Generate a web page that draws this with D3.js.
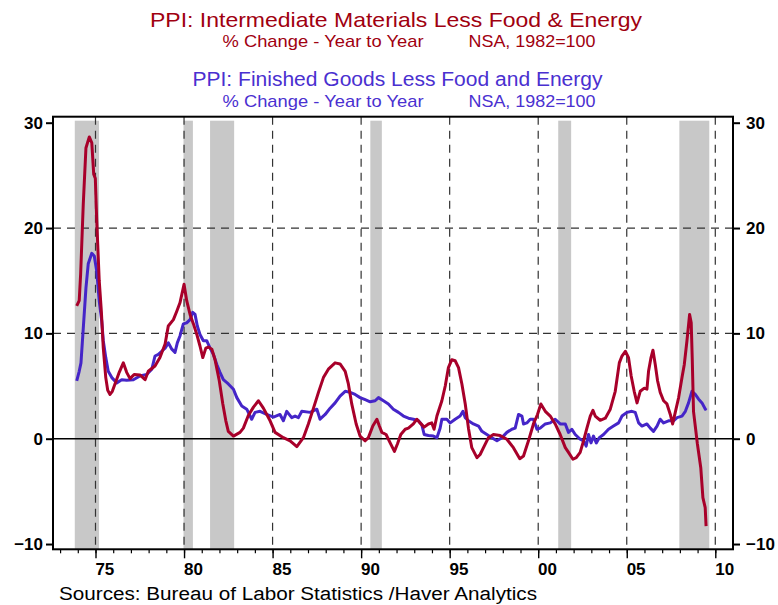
<!DOCTYPE html>
<html>
<head>
<meta charset="utf-8">
<script src="https://cdn.jsdelivr.net/npm/d3@7"></script>
<style>
  body { margin: 0; background: #fff; }
  svg { display: block; }
  text { font-family: "Liberation Sans Narrow", "Liberation Sans", Arial, sans-serif; }
</style>
</head>
<body>
<svg id="chart" width="778" height="605"></svg>
<script>
// PPI intermediate materials less food & energy, % y/y  [decimal year, value]
const intermediate = [
  [1973.94, 12.6], [1974.08, 13.1], [1974.16, 15.6], [1974.31, 22.3], [1974.46, 27.6],
  [1974.65, 28.65], [1974.79, 28.1], [1974.90, 25.1], [1974.99, 24.7], [1975.07, 20.7],
  [1975.21, 15.0], [1975.33, 12.1], [1975.44, 8.6], [1975.58, 5.8], [1975.69, 4.6],
  [1975.82, 4.2], [1975.95, 4.5], [1976.10, 5.2], [1976.34, 6.3], [1976.57, 7.2],
  [1976.76, 6.3], [1976.95, 5.7], [1977.18, 6.1], [1977.51, 6.05], [1977.80, 5.6],
  [1977.98, 6.4], [1978.36, 6.9], [1978.64, 7.7], [1978.93, 9.0], [1979.11, 10.7],
  [1979.40, 11.3], [1979.59, 12.1], [1979.77, 12.9], [1980.00, 14.66], [1980.15, 13.1],
  [1980.34, 11.8], [1980.53, 10.9], [1980.72, 9.9], [1980.90, 8.8], [1981.06, 7.7],
  [1981.23, 8.6], [1981.37, 8.7], [1981.57, 8.5], [1981.75, 7.5], [1981.99, 5.5],
  [1982.19, 3.3], [1982.36, 1.7], [1982.50, 0.7], [1982.79, 0.25], [1983.16, 0.6],
  [1983.35, 1.0], [1983.63, 2.2], [1983.92, 3.0], [1984.20, 3.6], [1984.48, 2.9],
  [1984.86, 1.7], [1985.14, 0.6], [1985.61, 0.1], [1985.99, -0.2], [1986.37, -0.75],
  [1986.74, 0.1], [1987.02, 1.4], [1987.31, 2.9], [1987.59, 4.4], [1987.87, 5.8],
  [1988.15, 6.6], [1988.53, 7.2], [1988.81, 7.1], [1989.10, 6.4], [1989.28, 5.2],
  [1989.47, 3.3], [1989.72, 1.4], [1989.94, 0.25], [1990.23, -0.2], [1990.41, 0.1],
  [1990.66, 1.2], [1990.89, 1.85], [1991.03, 1.2], [1991.17, 0.6], [1991.41, 0.4],
  [1991.64, -0.4], [1991.88, -1.2], [1992.05, -0.5], [1992.24, 0.4], [1992.49, 0.9],
  [1992.67, 1.0], [1992.95, 1.4], [1993.15, 1.85], [1993.33, 1.5], [1993.56, 1.1],
  [1993.80, 1.4], [1993.99, 1.5], [1994.12, 0.9], [1994.28, 2.15], [1994.56, 3.6],
  [1994.75, 5.0], [1994.93, 6.75], [1995.12, 7.5], [1995.31, 7.4], [1995.50, 6.75],
  [1995.69, 5.2], [1995.88, 3.3], [1996.06, 1.0], [1996.25, -0.85], [1996.54, -1.8],
  [1996.72, -1.5], [1996.91, -0.85], [1997.19, 0.1], [1997.47, 0.4], [1997.85, 0.3],
  [1998.23, -0.05], [1998.60, -0.85], [1998.96, -1.9], [1999.17, -1.65], [1999.45, -0.2],
  [1999.73, 1.4], [1999.96, 2.3], [2000.15, 3.3], [2000.40, 2.6], [2000.68, 2.15],
  [2000.96, 1.4], [2001.24, 0.4], [2001.53, -0.85], [2001.71, -1.3], [2001.96, -1.95],
  [2002.15, -1.8], [2002.37, -1.3], [2002.56, -0.2], [2002.75, 1.0], [2002.94, 2.15],
  [2003.09, 2.7], [2003.22, 2.15], [2003.50, 1.75], [2003.79, 1.95], [2004.07, 2.8],
  [2004.35, 4.5], [2004.58, 7.2], [2004.73, 7.85], [2004.92, 8.3], [2005.10, 7.7],
  [2005.25, 5.95], [2005.42, 4.5], [2005.58, 3.4], [2005.76, 4.5], [2005.99, 4.8],
  [2006.14, 4.7], [2006.23, 6.4], [2006.37, 7.7], [2006.48, 8.4], [2006.61, 7.05],
  [2006.74, 5.5], [2006.89, 4.4], [2007.08, 3.6], [2007.27, 3.3], [2007.46, 2.3],
  [2007.59, 1.4], [2007.74, 2.5], [2007.93, 3.9], [2008.12, 5.8], [2008.25, 7.05],
  [2008.40, 9.3], [2008.55, 11.8], [2008.64, 11.0], [2008.70, 7.5], [2008.77, 2.6],
  [2008.99, -0.5], [2009.18, -2.75], [2009.30, -5.6], [2009.43, -6.55], [2009.48, -8.3]
];

// PPI finished goods less food & energy, % y/y  [decimal year, value]
const finished = [
  [1973.94, 5.5], [1974.08, 6.4], [1974.18, 7.2], [1974.31, 10.5], [1974.46, 14.3],
  [1974.59, 16.6], [1974.79, 17.6], [1974.93, 17.35], [1975.07, 15.9], [1975.21, 13.1],
  [1975.35, 11.2], [1975.44, 9.3], [1975.58, 7.7], [1975.72, 6.4], [1975.92, 5.8],
  [1976.20, 5.3], [1976.48, 5.6], [1976.76, 5.55], [1977.14, 5.6], [1977.51, 5.95],
  [1977.89, 6.1], [1978.18, 6.6], [1978.36, 7.85], [1978.55, 8.0], [1978.74, 8.3],
  [1978.93, 8.6], [1979.11, 9.1], [1979.31, 8.5], [1979.49, 8.2], [1979.62, 9.1],
  [1979.77, 9.75], [1979.96, 10.9], [1980.15, 11.0], [1980.34, 11.3], [1980.49, 12.0],
  [1980.62, 11.8], [1980.75, 10.7], [1980.90, 9.9], [1981.09, 9.3], [1981.28, 9.3],
  [1981.47, 8.6], [1981.66, 8.0], [1981.85, 7.05], [1982.03, 6.3], [1982.22, 5.6],
  [1982.50, 5.2], [1982.79, 4.7], [1982.98, 3.9], [1983.26, 3.1], [1983.54, 2.8],
  [1983.82, 1.85], [1984.01, 2.5], [1984.29, 2.6], [1984.67, 2.3], [1985.05, 2.05],
  [1985.42, 2.3], [1985.61, 1.7], [1985.80, 2.6], [1986.08, 2.0], [1986.27, 2.15],
  [1986.46, 2.0], [1986.65, 2.6], [1987.12, 2.5], [1987.50, 2.8], [1987.68, 1.85],
  [1987.97, 2.3], [1988.25, 2.9], [1988.53, 3.4], [1988.81, 4.05], [1989.10, 4.5],
  [1989.38, 4.4], [1989.66, 4.2], [1989.94, 3.9], [1990.23, 3.7], [1990.51, 3.5],
  [1990.79, 3.6], [1990.98, 3.9], [1991.26, 3.6], [1991.54, 3.3], [1991.82, 2.8],
  [1992.11, 2.5], [1992.39, 2.15], [1992.67, 1.95], [1992.95, 1.85], [1993.24, 1.7],
  [1993.43, 1.3], [1993.56, 0.4], [1993.80, 0.3], [1994.08, 0.25], [1994.28, 0.1],
  [1994.46, 1.0], [1994.56, 1.85], [1994.84, 1.85], [1995.03, 1.5], [1995.31, 1.85],
  [1995.59, 2.15], [1995.75, 2.6], [1995.88, 2.0], [1996.06, 1.7], [1996.34, 1.4],
  [1996.63, 1.2], [1996.82, 0.7], [1997.10, 0.4], [1997.38, 0.1], [1997.67, -0.2],
  [1997.95, 0.1], [1998.23, 0.6], [1998.51, 0.9], [1998.70, 1.0], [1998.89, 2.3],
  [1999.08, 2.15], [1999.17, 1.4], [1999.36, 1.5], [1999.55, 1.85], [1999.73, 1.85],
  [1999.93, 0.9], [2000.11, 1.0], [2000.40, 1.4], [2000.68, 1.5], [2000.96, 1.85],
  [2001.24, 1.4], [2001.53, 1.4], [2001.71, 0.6], [2001.90, 0.9], [2002.09, 0.4],
  [2002.37, -0.05], [2002.56, -0.2], [2002.71, -0.7], [2002.84, 0.4], [2002.98, -0.4],
  [2003.12, 0.25], [2003.28, -0.4], [2003.45, 0.1], [2003.69, 0.4], [2003.97, 0.9],
  [2004.25, 1.2], [2004.54, 1.5], [2004.73, 2.15], [2005.01, 2.5], [2005.29, 2.6],
  [2005.48, 2.5], [2005.67, 1.5], [2005.86, 1.2], [2006.14, 1.4], [2006.33, 1.0],
  [2006.51, 0.7], [2006.71, 1.2], [2006.89, 1.85], [2007.08, 1.5], [2007.36, 1.7],
  [2007.64, 1.7], [2007.84, 2.0], [2008.12, 2.15], [2008.31, 2.6], [2008.49, 3.4],
  [2008.68, 4.5], [2008.87, 4.2], [2009.06, 3.75], [2009.25, 3.4], [2009.44, 2.8],
  [2009.49, 2.9]
];

// recessions (shaded), [start, end] in decimal years
const recessions = [
  [1973.83, 1975.2], [1979.97, 1980.5], [1981.47, 1982.83],
  [1990.52, 1991.17], [2001.13, 2001.86], [2007.97, 2009.66]
];

const yTicks = [-10, 0, 10, 20, 30];
const yGrid = [10, 20];
const majorYears = [1975, 1980, 1985, 1990, 1995, 2000, 2005, 2010];
const minorYears = d3.range(1973, 2011);

const red = "#a8002a";
const blue = "#4525c8";
const titleRed = "#a00010";
const titleBlue = "#4a30d0";

const svg = d3.select("#chart");
const plotLeft = 53, plotRight = 733, plotTop = 116.7, plotBottom = 549.3;

const x = d3.scaleLinear().domain([1972.6, 2011.0]).range([plotLeft, plotRight]);
const y = d3.scaleLinear().domain([-10.5, 30.57]).range([plotBottom, plotTop]);

// Titles: [text, x, baseline, width, size, colour]
const titleLines = [
  ["PPI: Intermediate Materials Less Food & Energy", 150, 27, 492, 21, titleRed],
  ["% Change - Year to Year", 222.5, 47, 201, 17, titleRed],
  ["NSA, 1982=100", 468.5, 47, 127, 17, titleRed],
  ["PPI: Finished Goods Less Food and Energy", 192.5, 86, 410, 20, titleBlue],
  ["% Change - Year to Year", 222.5, 106.5, 201, 17, titleBlue],
  ["NSA, 1982=100", 468.5, 106.5, 127, 17, titleBlue]
];
svg.append("g").selectAll("text")
  .data(titleLines)
  .join("text")
  .attr("x", d => d[1]).attr("y", d => d[2])
  .attr("textLength", d => d[3]).attr("lengthAdjust", "spacingAndGlyphs")
  .style("font-size", d => d[4] + "px")
  .attr("fill", d => d[5])
  .text(d => d[0]);

// Recession bands
svg.append("g").selectAll("rect")
  .data(recessions)
  .join("rect")
  .attr("x", d => x(d[0]))
  .attr("width", d => x(d[1]) - x(d[0]))
  .attr("y", plotTop + 4)
  .attr("height", plotBottom - plotTop - 4)
  .attr("fill", "#c8c8c8");

// Dashed grid
svg.append("g").selectAll("line")
  .data(majorYears)
  .join("line")
  .attr("x1", d => x(d)).attr("x2", d => x(d))
  .attr("y1", plotTop).attr("y2", plotBottom)
  .attr("stroke", "#333").attr("stroke-width", 1.2)
  .attr("stroke-dasharray", "8,6");

svg.append("g").selectAll("line")
  .data(yGrid)
  .join("line")
  .attr("x1", plotLeft).attr("x2", plotRight)
  .attr("y1", d => y(d)).attr("y2", d => y(d))
  .attr("stroke", "#333").attr("stroke-width", 1.2)
  .attr("stroke-dasharray", "8,6");

// zero line
svg.append("line")
  .attr("x1", plotLeft).attr("x2", plotRight)
  .attr("y1", y(0)).attr("y2", y(0))
  .attr("stroke", "#000").attr("stroke-width", 1.6);

// Series
const line = d3.line().x(d => x(d[0])).y(d => y(d[1]));
svg.append("path").datum(finished)
  .attr("d", line).attr("fill", "none")
  .attr("stroke", blue).attr("stroke-width", 3)
  .attr("stroke-linejoin", "round");
svg.append("path").datum(intermediate)
  .attr("d", line).attr("fill", "none")
  .attr("stroke", red).attr("stroke-width", 3)
  .attr("stroke-linejoin", "round");

// Frame
svg.append("rect")
  .attr("x", plotLeft).attr("y", plotTop)
  .attr("width", plotRight - plotLeft).attr("height", plotBottom - plotTop)
  .attr("fill", "none").attr("stroke", "#000").attr("stroke-width", 2);

// Axes
function styleAxis(g) {
  g.select(".domain").remove();
  g.selectAll(".tick line").attr("stroke", "#000").attr("stroke-width", 2);
  g.selectAll("text")
    .style("font-family", "'Liberation Sans', Arial, sans-serif")
    .style("font-size", "17px").style("font-weight", "bold").attr("fill", "#000");
}

svg.append("g").attr("transform", `translate(${plotLeft},0)`)
  .call(d3.axisLeft(y).tickValues(yTicks).tickSize(7).tickPadding(3).tickFormat(d3.format("d")))
  .call(styleAxis);

svg.append("g").attr("transform", `translate(${plotRight},0)`)
  .call(d3.axisRight(y).tickValues(yTicks).tickSize(7).tickPadding(6).tickFormat(d3.format("d")))
  .call(styleAxis);

svg.append("g").attr("transform", `translate(0,${plotBottom})`)
  .call(d3.axisBottom(x).tickValues(minorYears).tickSize(4).tickFormat(""))
  .call(styleAxis)
  .selectAll(".tick line").attr("stroke-width", 1.2);

svg.append("g").attr("transform", `translate(0,${plotBottom})`)
  .call(d3.axisBottom(x).tickValues(majorYears).tickSize(9).tickFormat(""))
  .call(styleAxis)
  .selectAll(".tick line").attr("stroke-width", 1.4);

// year labels sit centred in the year interval
svg.append("g").attr("transform", `translate(0,${plotBottom})`)
  .call(d3.axisBottom(x).tickValues(majorYears.map(d => d + 0.5)).tickSize(0).tickPadding(14)
    .tickFormat(d => d3.format("02d")(Math.round(d - 0.5) % 100)))
  .call(styleAxis);

// Source
svg.append("text").attr("x", 59).attr("y", 600)
  .attr("textLength", 478).attr("lengthAdjust", "spacingAndGlyphs")
  .style("font-size", "18px").attr("fill", "#000")
  .text("Sources:  Bureau of Labor Statistics /Haver Analytics");
</script>
</body>
</html>
